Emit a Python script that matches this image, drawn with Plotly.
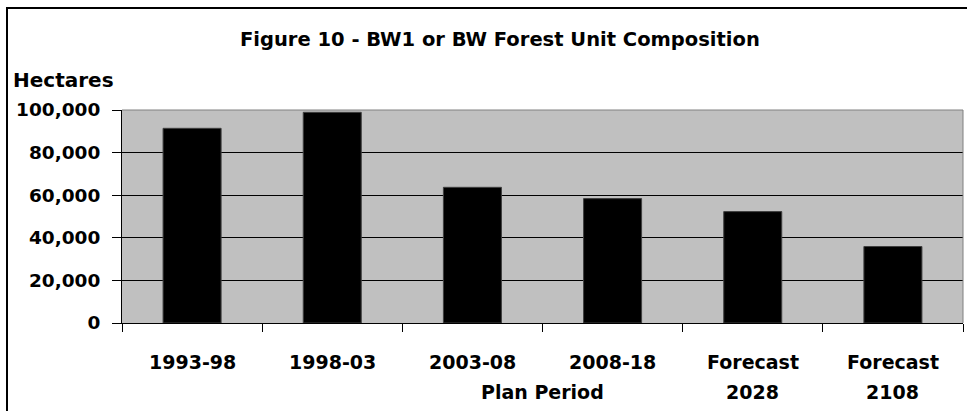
import plotly.graph_objects as go

# Forest unit area by plan period (hectares)
periods = ["1993-98", "1998-03", "2003-08", "2008-18", "Forecast 2028", "Forecast 2108"]
label_line1 = ["1993-98", "1998-03", "2003-08", "2008-18", "Forecast", "Forecast"]
label_line2 = ["", "", "", "", "2028", "2108"]
hectares = [91400, 98900, 63700, 58400, 52300, 35900]

y_ticks = [0, 20000, 40000, 60000, 80000, 100000]

FONT = "DejaVu Sans"
W, H = 967, 411
ML, MR, MT, MB = 122, 4, 110, 88
PW, PH = W - ML - MR, H - MT - MB


def px_x(p):
    return (p - ML) / PW


def px_y(p):
    return (H - MB - p) / PH


fig = go.Figure(
    go.Bar(
        x=periods,
        y=hectares,
        marker=dict(color="#000000", line=dict(color="#404040", width=1)),
        hoverinfo="x+y",
    )
)

annotations = [
    dict(text="Figure 10 - BW1 or BW Forest Unit Composition", x=px_x(500), y=px_y(40),
         xref="paper", yref="paper", xanchor="center", yanchor="middle", showarrow=False,
         font=dict(family=FONT, size=19.5, color="#000000", weight=700)),
    dict(text="Hectares", x=px_x(11), y=px_y(80),
         xref="paper", yref="paper", xanchor="left", yanchor="middle", showarrow=False,
         font=dict(family=FONT, size=20, color="#000000", weight=700)),
    dict(text="Plan Period", x=0.5, y=px_y(392),
         xref="paper", yref="paper", xanchor="center", yanchor="middle", showarrow=False,
         font=dict(family=FONT, size=19, color="#000000", weight=700)),
]
for cat, l1, l2 in zip(periods, label_line1, label_line2):
    for txt, ypix in ((l1, 362), (l2, 392)):
        if txt:
            annotations.append(dict(
                text=txt, x=cat, y=px_y(ypix), xref="x", yref="paper",
                xanchor="center", yanchor="middle", showarrow=False,
                font=dict(family=FONT, size=19, color="#000000", weight=700)))

shapes = [
    # outer chart frame
    dict(type="rect", xref="paper", yref="paper",
         x0=px_x(7), x1=px_x(W + 40), y0=px_y(H + 40), y1=px_y(8),
         line=dict(color="#000000", width=2), fillcolor="rgba(0,0,0,0)", layer="above"),
    # grey frame on top and right of plot area
    dict(type="line", xref="paper", yref="paper", x0=0, x1=1, y0=1, y1=1,
         line=dict(color="#808080", width=1), layer="above"),
    dict(type="line", xref="paper", yref="paper", x0=1, x1=1, y0=0, y1=1,
         line=dict(color="#808080", width=1), layer="above"),
]

fig.update_layout(
    width=W, height=H,
    margin=dict(l=ML, r=MR, t=MT, b=MB, pad=0),
    paper_bgcolor="#FFFFFF",
    plot_bgcolor="#C0C0C0",
    bargap=0.586,
    showlegend=False,
    annotations=annotations,
    shapes=shapes,
    font=dict(family=FONT, size=18, color="#000000"),
)

fig.update_xaxes(
    type="category",
    showticklabels=False,
    ticks="outside", ticklen=8, tickwidth=1, tickcolor="#000000",
    tickson="boundaries",
    showline=True, linecolor="#000000", linewidth=1,
    showgrid=False, zeroline=False,
)

fig.update_yaxes(
    range=[0, 100000],
    tickvals=y_ticks,
    tickformat=",",
    ticks="outside", ticklen=9, tickwidth=1, tickcolor="#000000",
    tickfont=dict(family=FONT, size=18.5, color="#000000", weight=700),
    ticklabelstandoff=8,
    showline=True, linecolor="#000000", linewidth=1,
    showgrid=True, gridcolor="#000000", gridwidth=1,
    zeroline=False,
)

fig.write_html("out.html")
